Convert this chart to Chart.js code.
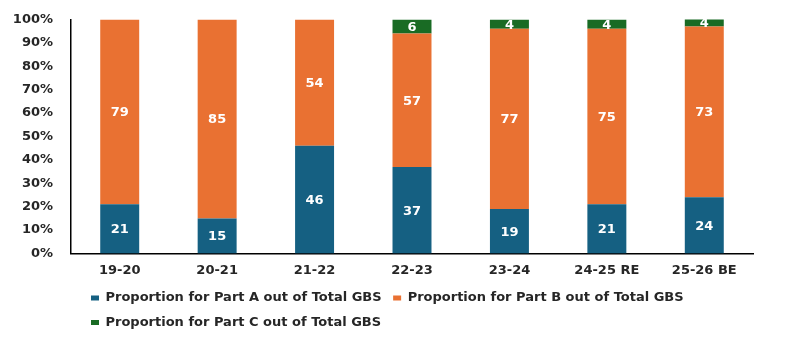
<!DOCTYPE html>
<html>
<head>
<meta charset="utf-8">
<script src="https://cdn.jsdelivr.net/npm/chart.js@4/dist/chart.umd.min.js"></script>
<style>
  html, body { margin: 0; padding: 0; background: #ffffff; }
  #wrap { width: 787px; height: 339px; position: relative; }
</style>
</head>
<body>
<div id="wrap"><canvas id="c"></canvas></div>
<script>
// Fiscal years
const categories = ['19-20', '20-21', '21-22', '22-23', '23-24', '24-25 RE', '25-26 BE'];

// Share of total GBS (%)
const partA = [21, 15, 46, 37, 19, 21, 24];
const partB = [79, 85, 54, 57, 77, 75, 73];
const partC = [null, null, null, 6, 4, 4, 4];

const seriesNames = [
  'Proportion for Part A out of Total GBS',
  'Proportion for Part B out of Total GBS',
  'Proportion for Part C out of Total GBS'
];

// Y axis: 0% to 100% in steps of 10
const yMin = 0;
const yMax = 100;
const yStep = 10;

const colors = ['#156082', '#E97132', '#196B24'];
const FONT = '"DejaVu Sans", sans-serif';

// White value labels centred in each stacked segment
const segmentLabels = {
  id: 'segmentLabels',
  afterDatasetsDraw(chart) {
    const ctx = chart.ctx;
    const area = chart.chartArea;
    ctx.save();
    ctx.font = 'bold 13px ' + FONT;
    ctx.fillStyle = '#ffffff';
    ctx.textAlign = 'center';
    ctx.textBaseline = 'middle';
    chart.data.datasets.forEach((ds, i) => {
      const meta = chart.getDatasetMeta(i);
      meta.data.forEach((bar, j) => {
        const v = ds.data[j];
        if (v == null) return;
        const top = Math.max(Math.min(bar.y, bar.base), area.top);
        const bottom = Math.max(bar.y, bar.base);
        ctx.fillText(String(v), bar.x, (top + bottom) / 2 + 1);
      });
    });
    ctx.restore();
  }
};

// Indent the legend rows a little from the plot's left edge
const legendIndent = {
  id: 'legendIndent',
  afterLayout(chart) {
    if (chart.legend) chart.legend.left += 8.5;
  }
};

new Chart(document.getElementById('c'), {
  type: 'bar',
  data: {
    labels: categories,
    datasets: [
      { label: seriesNames[0], data: partA, backgroundColor: colors[0] },
      { label: seriesNames[1], data: partB, backgroundColor: colors[1] },
      { label: seriesNames[2], data: partC, backgroundColor: colors[2] }
    ]
  },
  options: {
    responsive: true,
    maintainAspectRatio: false,
    animation: false,
    devicePixelRatio: 1,
    layout: { autoPadding: false, padding: { top: 19.5, right: 34, bottom: 0, left: 0 } },
    datasets: {
      bar: { categoryPercentage: 1.0, barPercentage: 0.4, borderWidth: 0 }
    },
    scales: {
      x: {
        stacked: true,
        grid: { display: false, drawTicks: false },
        border: { display: true, color: '#000000', width: 1.5 },
        afterFit(scale) { scale.height = 26.5; },
        ticks: {
          color: '#262626',
          padding: 9,
          font: { family: FONT, size: 13, weight: 'bold' }
        }
      },
      y: {
        stacked: true,
        min: yMin,
        max: yMax,
        grid: { display: false, drawTicks: false },
        border: { display: true, color: '#000000', width: 1.5 },
        afterFit(scale) {
          scale.width = 71;
          scale.paddingTop = 0;
          scale.paddingBottom = 0;
        },
        ticks: {
          stepSize: yStep,
          color: '#262626',
          padding: 18,
          font: { family: FONT, size: 13, weight: 'bold' },
          callback: (v) => v + '%'
        }
      }
    },
    plugins: {
      legend: {
        position: 'bottom',
        align: 'start',
        fullSize: false,
        labels: {
          boxWidth: 8,
          boxHeight: 5,
          padding: 11.5,
          color: '#262626',
          font: { family: FONT, size: 13, weight: 'bold' }
        }
      },
      tooltip: { enabled: false }
    }
  },
  plugins: [segmentLabels, legendIndent]
});
</script>
</body>
</html>
